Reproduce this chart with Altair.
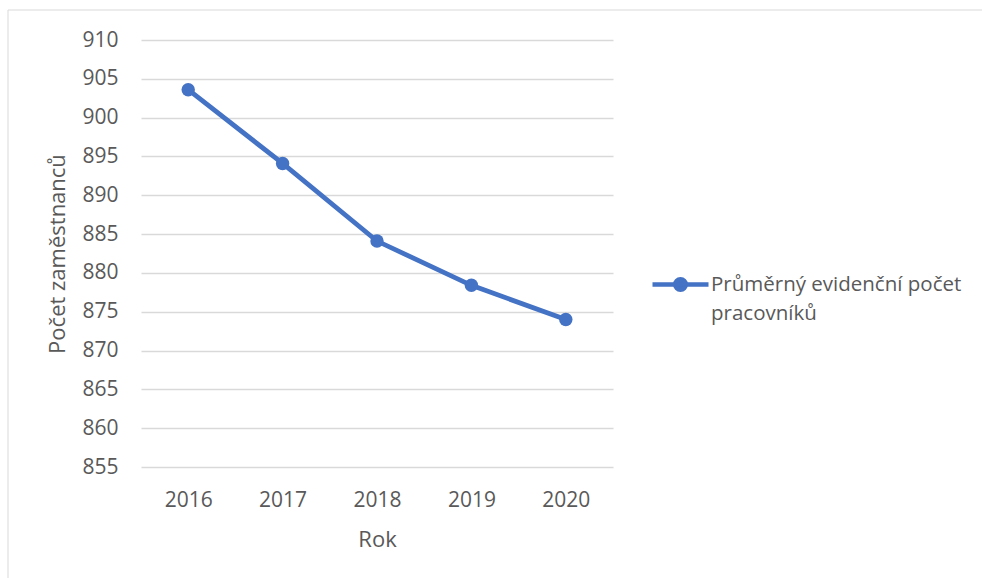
import altair as alt
import pandas as pd

# Average registered headcount per year
years = ["2016", "2017", "2018", "2019", "2020"]
employees = [903.6, 894.1, 884.1, 878.4, 874.0]
series_name = "Průměrný evidenční počet pracovníků"
y_ticks = list(range(855, 911, 5))

df = pd.DataFrame({
    "Rok": years,
    "Pocet": employees,
    "Rada": [series_name] * len(years),
})

FONT = "Open Sans"
TEXT = "#595959"
BLUE = "#4472C4"
GRID = "#D9D9D9"

W, H = 472, 427

x_enc = alt.X(
    "Rok:O",
    title="Rok",
    axis=alt.Axis(
        labelAngle=0, domain=False, ticks=False, grid=False,
        labelBaseline="alphabetic", labelPadding=39,
        titleY=79, titleBaseline="alphabetic",
    ),
)
y_enc = alt.Y(
    "Pocet:Q",
    title="Počet zaměstnanců",
    scale=alt.Scale(domain=[855, 910], nice=False, zero=False),
    axis=alt.Axis(
        values=y_ticks, tickCount=len(y_ticks) + 2,
        domain=False, ticks=False, grid=True,
        gridColor=GRID, gridWidth=1.3, labelPadding=23, labelOverlap=False,
        titleX=-84, titleY=H / 2, titleBaseline="middle",
    ),
)

# legend symbol: short line with a dot in the middle
symbol_path = "M-1,0H1M-0.19,0A0.19,0.19,0,1,1,0.19,0A0.19,0.19,0,1,1,-0.19,0Z"

legend = alt.Legend(
    orient="none", legendX=509, legendY=214, title=None, padding=0,
    symbolType=symbol_path, symbolSize=3136,
    symbolFillColor=BLUE, symbolStrokeColor=BLUE, symbolStrokeWidth=4.5,
    symbolOpacity=1,
    labelExpr="[slice(datum.label, 0, 24), slice(datum.label, 25)]",
    labelFont=FONT, labelFontSize=20.5, labelColor=TEXT, labelOffset=0,
    labelLimit=400,
)

line = alt.Chart(df).mark_line(color=BLUE, strokeWidth=4.8).encode(x=x_enc, y=y_enc)
points = alt.Chart(df).mark_point(filled=True, size=180, opacity=1).encode(
    x="Rok:O",
    y="Pocet:Q",
    color=alt.Color("Rada:N", scale=alt.Scale(range=[BLUE]), legend=legend),
)

frame_data = alt.Data(values=[{}])
frame_top = alt.Chart(frame_data).mark_rule(color=GRID, strokeWidth=1).encode(
    x=alt.value(-133), x2=alt.value(841), y=alt.value(-30)
)
frame_left = alt.Chart(frame_data).mark_rule(color=GRID, strokeWidth=1).encode(
    x=alt.value(-133), y=alt.value(-30), y2=alt.value(538)
)

chart = alt.layer(frame_top, frame_left, line, points).properties(
    width=W,
    height=H,
    autosize=alt.AutoSizeParams(type="none"),
    padding={"left": 141, "top": 40, "right": 369, "bottom": 111},
    background="white",
).configure(
    style={"guide-label": {"lineHeight": 29}},
).configure_view(stroke=None).configure_axis(
    labelFont=FONT, labelFontSize=21, labelColor=TEXT,
    titleFont=FONT, titleFontSize=22, titleColor=TEXT, titleFontWeight="normal",
)

chart.save("out.html", embed_options={"renderer": "svg", "actions": False})
